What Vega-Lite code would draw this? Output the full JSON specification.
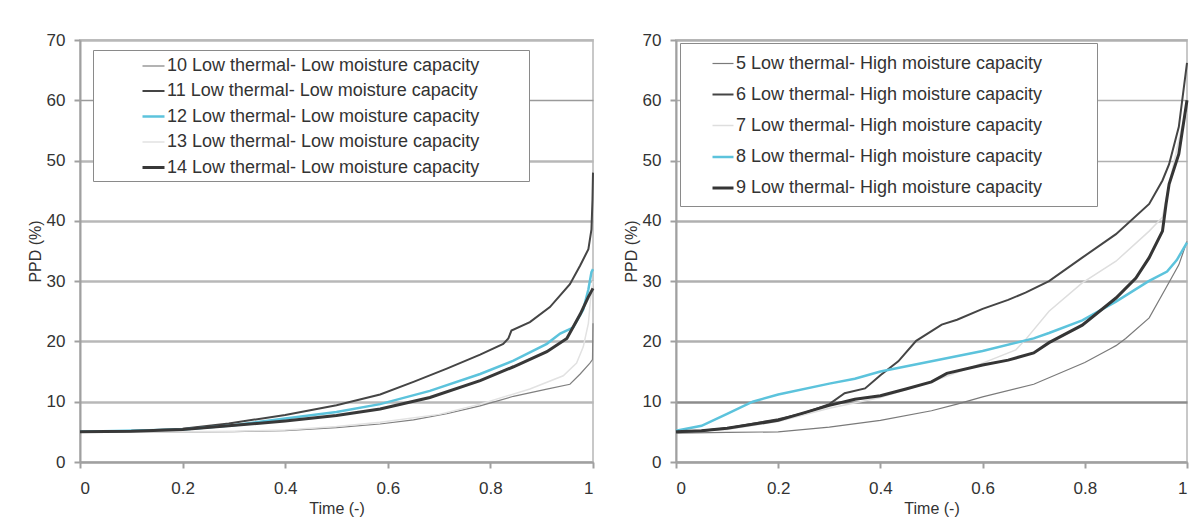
{
  "$schema": "https://vega.github.io/schema/vega-lite/v6.json",
  "background": "white",
  "padding": {"left": 26, "top": 30, "right": 5, "bottom": 5},
  "spacing": 22,
  "config": {
    "font": "Liberation Sans",
    "view": {"stroke": "#c8c8c8", "strokeWidth": 2},
    "axis": {
      "labelFont": "Liberation Sans", "labelFontSize": 17, "labelColor": "#333333",
      "titleFont": "Liberation Sans", "titleFontSize": 16, "titleFontWeight": "normal", "titleColor": "#333333",
      "domainColor": "#a0a0a0", "domainWidth": 2, "tickColor": "#a0a0a0", "tickWidth": 2, "tickSize": 6
    }
  },
  "datasets": {
    "left": [
      {"s": "10 Low thermal- Low moisture capacity", "t": 0, "p": 5.0},
      {"s": "10 Low thermal- Low moisture capacity", "t": 0.1, "p": 5.0},
      {"s": "10 Low thermal- Low moisture capacity", "t": 0.2, "p": 5.0},
      {"s": "10 Low thermal- Low moisture capacity", "t": 0.3, "p": 5.05},
      {"s": "10 Low thermal- Low moisture capacity", "t": 0.4, "p": 5.2},
      {"s": "10 Low thermal- Low moisture capacity", "t": 0.5, "p": 5.7},
      {"s": "10 Low thermal- Low moisture capacity", "t": 0.585, "p": 6.3},
      {"s": "10 Low thermal- Low moisture capacity", "t": 0.65, "p": 7.0},
      {"s": "10 Low thermal- Low moisture capacity", "t": 0.715, "p": 8.0},
      {"s": "10 Low thermal- Low moisture capacity", "t": 0.78, "p": 9.3},
      {"s": "10 Low thermal- Low moisture capacity", "t": 0.845, "p": 10.9},
      {"s": "10 Low thermal- Low moisture capacity", "t": 0.91, "p": 12.1},
      {"s": "10 Low thermal- Low moisture capacity", "t": 0.955, "p": 12.9},
      {"s": "10 Low thermal- Low moisture capacity", "t": 0.975, "p": 14.6},
      {"s": "10 Low thermal- Low moisture capacity", "t": 0.994, "p": 16.4},
      {"s": "10 Low thermal- Low moisture capacity", "t": 0.999, "p": 17.0},
      {"s": "10 Low thermal- Low moisture capacity", "t": 1.0, "p": 23.0},

      {"s": "11 Low thermal- Low moisture capacity", "t": 0, "p": 5.0},
      {"s": "11 Low thermal- Low moisture capacity", "t": 0.07, "p": 5.0},
      {"s": "11 Low thermal- Low moisture capacity", "t": 0.2, "p": 5.5},
      {"s": "11 Low thermal- Low moisture capacity", "t": 0.29, "p": 6.4},
      {"s": "11 Low thermal- Low moisture capacity", "t": 0.4, "p": 7.8},
      {"s": "11 Low thermal- Low moisture capacity", "t": 0.5, "p": 9.4},
      {"s": "11 Low thermal- Low moisture capacity", "t": 0.585, "p": 11.2},
      {"s": "11 Low thermal- Low moisture capacity", "t": 0.65, "p": 13.3},
      {"s": "11 Low thermal- Low moisture capacity", "t": 0.715, "p": 15.5},
      {"s": "11 Low thermal- Low moisture capacity", "t": 0.78, "p": 17.8},
      {"s": "11 Low thermal- Low moisture capacity", "t": 0.825, "p": 19.6},
      {"s": "11 Low thermal- Low moisture capacity", "t": 0.835, "p": 20.5},
      {"s": "11 Low thermal- Low moisture capacity", "t": 0.841, "p": 21.8},
      {"s": "11 Low thermal- Low moisture capacity", "t": 0.877, "p": 23.2},
      {"s": "11 Low thermal- Low moisture capacity", "t": 0.916, "p": 25.7},
      {"s": "11 Low thermal- Low moisture capacity", "t": 0.955, "p": 29.5},
      {"s": "11 Low thermal- Low moisture capacity", "t": 0.975, "p": 32.6},
      {"s": "11 Low thermal- Low moisture capacity", "t": 0.991, "p": 35.3},
      {"s": "11 Low thermal- Low moisture capacity", "t": 0.997, "p": 38.6},
      {"s": "11 Low thermal- Low moisture capacity", "t": 0.999, "p": 43.5},
      {"s": "11 Low thermal- Low moisture capacity", "t": 1.0, "p": 48.0},

      {"s": "12 Low thermal- Low moisture capacity", "t": 0, "p": 5.0},
      {"s": "12 Low thermal- Low moisture capacity", "t": 0.2, "p": 5.4},
      {"s": "12 Low thermal- Low moisture capacity", "t": 0.3, "p": 6.1},
      {"s": "12 Low thermal- Low moisture capacity", "t": 0.4, "p": 7.2},
      {"s": "12 Low thermal- Low moisture capacity", "t": 0.5, "p": 8.3},
      {"s": "12 Low thermal- Low moisture capacity", "t": 0.585, "p": 9.6},
      {"s": "12 Low thermal- Low moisture capacity", "t": 0.682, "p": 11.8},
      {"s": "12 Low thermal- Low moisture capacity", "t": 0.78, "p": 14.6},
      {"s": "12 Low thermal- Low moisture capacity", "t": 0.845, "p": 16.8},
      {"s": "12 Low thermal- Low moisture capacity", "t": 0.91, "p": 19.6},
      {"s": "12 Low thermal- Low moisture capacity", "t": 0.936, "p": 21.3},
      {"s": "12 Low thermal- Low moisture capacity", "t": 0.961, "p": 22.3},
      {"s": "12 Low thermal- Low moisture capacity", "t": 0.981, "p": 25.3},
      {"s": "12 Low thermal- Low moisture capacity", "t": 0.991, "p": 28.6},
      {"s": "12 Low thermal- Low moisture capacity", "t": 0.997, "p": 31.5},
      {"s": "12 Low thermal- Low moisture capacity", "t": 1.0, "p": 32.0},

      {"s": "13 Low thermal- Low moisture capacity", "t": 0, "p": 5.0},
      {"s": "13 Low thermal- Low moisture capacity", "t": 0.2, "p": 5.0},
      {"s": "13 Low thermal- Low moisture capacity", "t": 0.3, "p": 5.1},
      {"s": "13 Low thermal- Low moisture capacity", "t": 0.4, "p": 5.3},
      {"s": "13 Low thermal- Low moisture capacity", "t": 0.5, "p": 5.9},
      {"s": "13 Low thermal- Low moisture capacity", "t": 0.585, "p": 6.6},
      {"s": "13 Low thermal- Low moisture capacity", "t": 0.7, "p": 7.9},
      {"s": "13 Low thermal- Low moisture capacity", "t": 0.78, "p": 9.6},
      {"s": "13 Low thermal- Low moisture capacity", "t": 0.877, "p": 12.1},
      {"s": "13 Low thermal- Low moisture capacity", "t": 0.942, "p": 14.3},
      {"s": "13 Low thermal- Low moisture capacity", "t": 0.968, "p": 16.4},
      {"s": "13 Low thermal- Low moisture capacity", "t": 0.981, "p": 19.1},
      {"s": "13 Low thermal- Low moisture capacity", "t": 0.991, "p": 23.0},
      {"s": "13 Low thermal- Low moisture capacity", "t": 0.995, "p": 26.8},
      {"s": "13 Low thermal- Low moisture capacity", "t": 1.0, "p": 30.0},

      {"s": "14 Low thermal- Low moisture capacity", "t": 0, "p": 5.0},
      {"s": "14 Low thermal- Low moisture capacity", "t": 0.1, "p": 5.1},
      {"s": "14 Low thermal- Low moisture capacity", "t": 0.2, "p": 5.4},
      {"s": "14 Low thermal- Low moisture capacity", "t": 0.29, "p": 6.0},
      {"s": "14 Low thermal- Low moisture capacity", "t": 0.4, "p": 6.8},
      {"s": "14 Low thermal- Low moisture capacity", "t": 0.5, "p": 7.7},
      {"s": "14 Low thermal- Low moisture capacity", "t": 0.585, "p": 8.8},
      {"s": "14 Low thermal- Low moisture capacity", "t": 0.682, "p": 10.7},
      {"s": "14 Low thermal- Low moisture capacity", "t": 0.78, "p": 13.5},
      {"s": "14 Low thermal- Low moisture capacity", "t": 0.845, "p": 15.8},
      {"s": "14 Low thermal- Low moisture capacity", "t": 0.91, "p": 18.3},
      {"s": "14 Low thermal- Low moisture capacity", "t": 0.949, "p": 20.5},
      {"s": "14 Low thermal- Low moisture capacity", "t": 0.975, "p": 24.5},
      {"s": "14 Low thermal- Low moisture capacity", "t": 0.991, "p": 27.4},
      {"s": "14 Low thermal- Low moisture capacity", "t": 1.0, "p": 28.8}
    ],
    "right": [
      {"s": "5 Low thermal- High moisture capacity", "t": 0, "p": 4.8},
      {"s": "5 Low thermal- High moisture capacity", "t": 0.1, "p": 4.9},
      {"s": "5 Low thermal- High moisture capacity", "t": 0.2, "p": 5.0},
      {"s": "5 Low thermal- High moisture capacity", "t": 0.3, "p": 5.8},
      {"s": "5 Low thermal- High moisture capacity", "t": 0.4, "p": 6.9},
      {"s": "5 Low thermal- High moisture capacity", "t": 0.5, "p": 8.5},
      {"s": "5 Low thermal- High moisture capacity", "t": 0.55, "p": 9.6},
      {"s": "5 Low thermal- High moisture capacity", "t": 0.6, "p": 10.8},
      {"s": "5 Low thermal- High moisture capacity", "t": 0.7, "p": 12.9},
      {"s": "5 Low thermal- High moisture capacity", "t": 0.8, "p": 16.5},
      {"s": "5 Low thermal- High moisture capacity", "t": 0.85, "p": 18.8},
      {"s": "5 Low thermal- High moisture capacity", "t": 0.861, "p": 19.3},
      {"s": "5 Low thermal- High moisture capacity", "t": 0.88, "p": 20.5},
      {"s": "5 Low thermal- High moisture capacity", "t": 0.926, "p": 23.9},
      {"s": "5 Low thermal- High moisture capacity", "t": 0.959, "p": 28.9},
      {"s": "5 Low thermal- High moisture capacity", "t": 0.984, "p": 32.7},
      {"s": "5 Low thermal- High moisture capacity", "t": 1.0, "p": 36.6},

      {"s": "6 Low thermal- High moisture capacity", "t": 0, "p": 5.0},
      {"s": "6 Low thermal- High moisture capacity", "t": 0.05, "p": 5.2},
      {"s": "6 Low thermal- High moisture capacity", "t": 0.1, "p": 5.6},
      {"s": "6 Low thermal- High moisture capacity", "t": 0.2, "p": 7.1},
      {"s": "6 Low thermal- High moisture capacity", "t": 0.25, "p": 8.1},
      {"s": "6 Low thermal- High moisture capacity", "t": 0.3, "p": 9.6},
      {"s": "6 Low thermal- High moisture capacity", "t": 0.33, "p": 11.4},
      {"s": "6 Low thermal- High moisture capacity", "t": 0.37, "p": 12.2},
      {"s": "6 Low thermal- High moisture capacity", "t": 0.4, "p": 14.4},
      {"s": "6 Low thermal- High moisture capacity", "t": 0.435, "p": 16.7},
      {"s": "6 Low thermal- High moisture capacity", "t": 0.47, "p": 20.1},
      {"s": "6 Low thermal- High moisture capacity", "t": 0.52, "p": 22.8},
      {"s": "6 Low thermal- High moisture capacity", "t": 0.55, "p": 23.6},
      {"s": "6 Low thermal- High moisture capacity", "t": 0.6, "p": 25.4},
      {"s": "6 Low thermal- High moisture capacity", "t": 0.65, "p": 26.9},
      {"s": "6 Low thermal- High moisture capacity", "t": 0.684, "p": 28.1},
      {"s": "6 Low thermal- High moisture capacity", "t": 0.73, "p": 30.0},
      {"s": "6 Low thermal- High moisture capacity", "t": 0.795, "p": 33.9},
      {"s": "6 Low thermal- High moisture capacity", "t": 0.861, "p": 37.8},
      {"s": "6 Low thermal- High moisture capacity", "t": 0.926, "p": 42.8},
      {"s": "6 Low thermal- High moisture capacity", "t": 0.952, "p": 46.7},
      {"s": "6 Low thermal- High moisture capacity", "t": 0.965, "p": 49.4},
      {"s": "6 Low thermal- High moisture capacity", "t": 0.984, "p": 55.6},
      {"s": "6 Low thermal- High moisture capacity", "t": 1.0, "p": 66.2},

      {"s": "7 Low thermal- High moisture capacity", "t": 0, "p": 5.0},
      {"s": "7 Low thermal- High moisture capacity", "t": 0.1, "p": 5.4},
      {"s": "7 Low thermal- High moisture capacity", "t": 0.2, "p": 6.7},
      {"s": "7 Low thermal- High moisture capacity", "t": 0.3, "p": 8.9},
      {"s": "7 Low thermal- High moisture capacity", "t": 0.4, "p": 10.7},
      {"s": "7 Low thermal- High moisture capacity", "t": 0.5, "p": 13.3},
      {"s": "7 Low thermal- High moisture capacity", "t": 0.6, "p": 16.4},
      {"s": "7 Low thermal- High moisture capacity", "t": 0.665, "p": 18.6},
      {"s": "7 Low thermal- High moisture capacity", "t": 0.684, "p": 20.3},
      {"s": "7 Low thermal- High moisture capacity", "t": 0.73, "p": 25.0},
      {"s": "7 Low thermal- High moisture capacity", "t": 0.795, "p": 29.7},
      {"s": "7 Low thermal- High moisture capacity", "t": 0.861, "p": 33.3},
      {"s": "7 Low thermal- High moisture capacity", "t": 0.926, "p": 38.3},
      {"s": "7 Low thermal- High moisture capacity", "t": 0.952, "p": 40.6},
      {"s": "7 Low thermal- High moisture capacity", "t": 0.965, "p": 46.1},
      {"s": "7 Low thermal- High moisture capacity", "t": 0.99, "p": 55.6},
      {"s": "7 Low thermal- High moisture capacity", "t": 1.0, "p": 58.0},

      {"s": "8 Low thermal- High moisture capacity", "t": 0, "p": 5.2},
      {"s": "8 Low thermal- High moisture capacity", "t": 0.05, "p": 6.0},
      {"s": "8 Low thermal- High moisture capacity", "t": 0.1, "p": 8.0},
      {"s": "8 Low thermal- High moisture capacity", "t": 0.15, "p": 10.0},
      {"s": "8 Low thermal- High moisture capacity", "t": 0.2, "p": 11.2},
      {"s": "8 Low thermal- High moisture capacity", "t": 0.3, "p": 13.0},
      {"s": "8 Low thermal- High moisture capacity", "t": 0.35, "p": 13.8},
      {"s": "8 Low thermal- High moisture capacity", "t": 0.4, "p": 15.0},
      {"s": "8 Low thermal- High moisture capacity", "t": 0.5, "p": 16.7},
      {"s": "8 Low thermal- High moisture capacity", "t": 0.6, "p": 18.4},
      {"s": "8 Low thermal- High moisture capacity", "t": 0.7, "p": 20.5},
      {"s": "8 Low thermal- High moisture capacity", "t": 0.73, "p": 21.4},
      {"s": "8 Low thermal- High moisture capacity", "t": 0.795, "p": 23.5},
      {"s": "8 Low thermal- High moisture capacity", "t": 0.861, "p": 26.6},
      {"s": "8 Low thermal- High moisture capacity", "t": 0.925, "p": 30.0},
      {"s": "8 Low thermal- High moisture capacity", "t": 0.961, "p": 31.6},
      {"s": "8 Low thermal- High moisture capacity", "t": 0.98, "p": 33.5},
      {"s": "8 Low thermal- High moisture capacity", "t": 1.0, "p": 36.4},

      {"s": "9 Low thermal- High moisture capacity", "t": 0, "p": 5.0},
      {"s": "9 Low thermal- High moisture capacity", "t": 0.05, "p": 5.2},
      {"s": "9 Low thermal- High moisture capacity", "t": 0.1, "p": 5.6},
      {"s": "9 Low thermal- High moisture capacity", "t": 0.2, "p": 6.9},
      {"s": "9 Low thermal- High moisture capacity", "t": 0.3, "p": 9.4},
      {"s": "9 Low thermal- High moisture capacity", "t": 0.35, "p": 10.4},
      {"s": "9 Low thermal- High moisture capacity", "t": 0.4, "p": 11.0},
      {"s": "9 Low thermal- High moisture capacity", "t": 0.45, "p": 12.1},
      {"s": "9 Low thermal- High moisture capacity", "t": 0.5, "p": 13.3},
      {"s": "9 Low thermal- High moisture capacity", "t": 0.53, "p": 14.7},
      {"s": "9 Low thermal- High moisture capacity", "t": 0.6, "p": 16.1},
      {"s": "9 Low thermal- High moisture capacity", "t": 0.65, "p": 16.9},
      {"s": "9 Low thermal- High moisture capacity", "t": 0.7, "p": 18.1},
      {"s": "9 Low thermal- High moisture capacity", "t": 0.73, "p": 19.8},
      {"s": "9 Low thermal- High moisture capacity", "t": 0.795, "p": 22.7},
      {"s": "9 Low thermal- High moisture capacity", "t": 0.861, "p": 27.2},
      {"s": "9 Low thermal- High moisture capacity", "t": 0.9, "p": 30.5},
      {"s": "9 Low thermal- High moisture capacity", "t": 0.926, "p": 33.9},
      {"s": "9 Low thermal- High moisture capacity", "t": 0.952, "p": 38.3},
      {"s": "9 Low thermal- High moisture capacity", "t": 0.959, "p": 42.8},
      {"s": "9 Low thermal- High moisture capacity", "t": 0.965, "p": 46.1},
      {"s": "9 Low thermal- High moisture capacity", "t": 0.984, "p": 51.1},
      {"s": "9 Low thermal- High moisture capacity", "t": 1.0, "p": 60.0}
    ]
  },
  "resolve": {
    "scale": {"color": "independent", "strokeWidth": "independent"},
    "legend": {"color": "independent", "strokeWidth": "independent"}
  },
  "hconcat": [
    {
      "width": 513,
      "height": 422,
      "layer": [
        {
          "data": {"name": "left"},
          "mark": {"type": "line", "interpolate": "linear"},
          "encoding": {
            "x": {"field": "t", "type": "quantitative", "scale": {"domain": [0, 1], "nice": false}, "title": "Time (-)",
                  "axis": {"values": [0, 0.2, 0.4, 0.6, 0.8, 1], "format": "~g", "grid": false, "labelPadding": 12, "titlePadding": 4}},
            "y": {"field": "p", "type": "quantitative", "scale": {"domain": [0, 70], "nice": false}, "title": "PPD (%)",
                  "axis": {"values": [0, 10, 20, 30, 40, 50, 60, 70], "grid": true,
                           "gridColor": {"condition": {"test": "datum.value === 60", "value": "#9a9a9a"}, "value": "#b8b8b8"},
                           "gridWidth": {"condition": {"test": "datum.value === 60", "value": 1.5}, "value": 2.5},
                           "labelPadding": 9, "titlePadding": 3}},
            "color": {"field": "s", "type": "nominal", "title": null,
              "scale": {"domain": ["10 Low thermal- Low moisture capacity", "11 Low thermal- Low moisture capacity", "12 Low thermal- Low moisture capacity", "13 Low thermal- Low moisture capacity", "14 Low thermal- Low moisture capacity"],
                        "range": ["#808080", "#454545", "#5cc3dc", "#e2e2e2", "#383838"]},
              "legend": {"orient": "none", "legendX": 13, "legendY": 10, "symbolType": "stroke", "symbolSize": 484, "symbolOffset": 44,
                         "labelFontSize": 18, "labelColor": "#333333", "labelLimit": 800, "labelOffset": 1, "rowPadding": 4,
                         "padding": 4, "fillColor": "white", "strokeColor": "#8a8a8a",
                         "labelExpr": "datum.label + '         \u200b'"}},
            "strokeWidth": {"field": "s", "type": "nominal", "title": null,
              "scale": {"type": "ordinal", "domain": ["10 Low thermal- Low moisture capacity", "11 Low thermal- Low moisture capacity", "12 Low thermal- Low moisture capacity", "13 Low thermal- Low moisture capacity", "14 Low thermal- Low moisture capacity"],
                        "range": [1.2, 2, 2.5, 1.5, 3]},
              "legend": {"orient": "none", "legendX": 13, "legendY": 10, "symbolType": "stroke", "symbolSize": 484, "symbolOffset": 44,
                         "labelFontSize": 18, "labelColor": "#333333", "labelLimit": 800, "labelOffset": 1, "rowPadding": 4,
                         "padding": 4, "fillColor": "white", "strokeColor": "#8a8a8a",
                         "labelExpr": "datum.label + '         \u200b'"}}
          }
        },
        {
          "mark": {"type": "rule", "color": "#e8362d", "strokeWidth": 4},
          "encoding": {"y": {"datum": 20}}
        }
      ]
    },
    {
      "width": 511,
      "height": 422,
      "layer": [
        {
          "data": {"name": "right"},
          "mark": {"type": "line", "interpolate": "linear"},
          "encoding": {
            "x": {"field": "t", "type": "quantitative", "scale": {"domain": [0, 1], "nice": false}, "title": "Time (-)",
                  "axis": {"values": [0, 0.2, 0.4, 0.6, 0.8, 1], "format": "~g", "grid": false, "labelPadding": 12, "titlePadding": 4}},
            "y": {"field": "p", "type": "quantitative", "scale": {"domain": [0, 70], "nice": false}, "title": "PPD (%)",
                  "axis": {"values": [0, 10, 20, 30, 40, 50, 60, 70], "grid": true,
                           "gridColor": {"condition": {"test": "datum.value === 10", "value": "#8c8c8c"}, "value": "#b0b0b0"},
                           "gridWidth": {"condition": {"test": "datum.value === 50 || datum.value === 60", "value": 1.5}, "value": 2.5},
                           "labelPadding": 9, "titlePadding": 3}},
            "color": {"field": "s", "type": "nominal", "title": null,
              "scale": {"domain": ["5 Low thermal- High moisture capacity", "6 Low thermal- High moisture capacity", "7 Low thermal- High moisture capacity", "8 Low thermal- High moisture capacity", "9 Low thermal- High moisture capacity"],
                        "range": ["#7a7a7a", "#454545", "#dedede", "#5cc3dc", "#353535"]},
              "legend": {"orient": "none", "legendX": 4, "legendY": 3, "symbolType": "stroke", "symbolSize": 441, "symbolOffset": 22,
                         "labelFontSize": 18, "labelColor": "#333333", "labelLimit": 800, "labelOffset": 1, "rowPadding": 10,
                         "padding": 9, "fillColor": "white", "strokeColor": "#8a8a8a",
                         "labelExpr": "datum.label + '         \u200b'"}},
            "strokeWidth": {"field": "s", "type": "nominal", "title": null,
              "scale": {"type": "ordinal", "domain": ["5 Low thermal- High moisture capacity", "6 Low thermal- High moisture capacity", "7 Low thermal- High moisture capacity", "8 Low thermal- High moisture capacity", "9 Low thermal- High moisture capacity"],
                        "range": [1.2, 2, 1.5, 2.5, 3]},
              "legend": {"orient": "none", "legendX": 4, "legendY": 3, "symbolType": "stroke", "symbolSize": 441, "symbolOffset": 22,
                         "labelFontSize": 18, "labelColor": "#333333", "labelLimit": 800, "labelOffset": 1, "rowPadding": 10,
                         "padding": 9, "fillColor": "white", "strokeColor": "#8a8a8a",
                         "labelExpr": "datum.label + '         \u200b'"}}
          }
        },
        {
          "mark": {"type": "rule", "color": "#e8362d", "strokeWidth": 4},
          "encoding": {"y": {"datum": 20}}
        }
      ]
    }
  ]
}
